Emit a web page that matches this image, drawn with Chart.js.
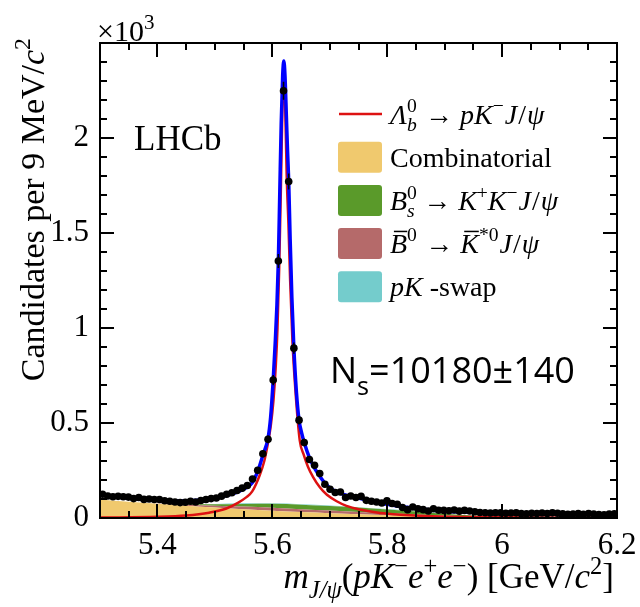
<!DOCTYPE html>
<html>
<head>
<meta charset="utf-8">
<script src="https://cdn.jsdelivr.net/npm/chart.js@4.4.1/dist/chart.umd.min.js"></script>
<style>
  html, body { margin: 0; padding: 0; background: #fff; }
  #wrap { width: 640px; height: 607px; }
</style>
</head>
<body>
<div id="wrap"><canvas id="massChart" width="640" height="607"></canvas></div>
<script>
// Histogram: 9 MeV bins starting at 5.3 GeV
const binStart = 5.3;
const binWidth = 0.009;
const counts = [
  125, 116, 112, 114, 112, 110, 102, 108, 98, 100,
  97, 97, 91, 88, 84, 81, 83, 88, 84, 92,
  97, 102, 105, 115, 125, 133, 145, 157, 171, 205,
  251, 338, 414, 726, 1353, 2249, 1771, 894, 515, 397,
  308, 278, 234, 178, 151, 134, 137, 108, 116, 108,
  114, 93, 88, 84, 79, 90, 76, 72, 55, 44,
  58, 49, 44, 37, 49, 41, 40, 38, 42, 36,
  40, 37, 33, 29, 28, 26, 28, 27, 25, 26,
  27, 23, 22, 25, 24, 26, 24, 27, 25, 22,
  19, 21, 23, 19, 24, 21, 18, 17, 21, 22
];

// Total fit (blue)
const totalMass = [
  5.300, 5.330, 5.360, 5.390, 5.420, 5.450, 5.480, 5.500, 5.520, 5.540,
  5.555, 5.565, 5.5745, 5.5835, 5.5925, 5.5970, 5.6015, 5.6050, 5.6080, 5.6105,
  5.6130, 5.6155, 5.6180, 5.6200, 5.6220, 5.6245, 5.6265, 5.6285, 5.6310, 5.6340,
  5.6375, 5.6420, 5.6465, 5.6510, 5.6555, 5.6645, 5.6735, 5.6825, 5.6915, 5.7005,
  5.710, 5.725, 5.740, 5.760, 5.780, 5.800, 5.820, 5.840, 5.860, 5.880,
  5.900, 5.930, 5.960, 6.000, 6.050, 6.100, 6.150, 6.200
];
const totalFit = [
  122, 111, 102, 95, 90, 90, 96, 105, 118, 138,
  160, 185, 245, 330, 420, 530, 726, 920, 1120, 1353,
  1720, 2080, 2330, 2405, 2330, 2110, 1930, 1771, 1470, 1160,
  894, 660, 515, 448, 397, 318, 262, 220, 184, 158,
  140, 123, 111, 97, 84, 72, 62, 54, 47, 41,
  36, 31, 28, 26, 24, 22, 21, 20
];

// Signal Lambda_b -> p K J/psi (red)
const sigMass = [
  5.300, 5.400, 5.450, 5.490, 5.520, 5.540, 5.555, 5.565, 5.578, 5.586,
  5.5927, 5.5975, 5.602, 5.606, 5.609, 5.612, 5.615, 5.6175, 5.620, 5.6225,
  5.625, 5.628, 5.631, 5.635, 5.640, 5.6477, 5.655, 5.662, 5.671, 5.683,
  5.695, 5.712, 5.729, 5.752, 5.782, 5.810, 5.840, 5.890, 5.950, 6.050, 6.200
];
const sigFit = [
  2, 6, 13, 28, 50, 80, 110, 140, 225, 300,
  400, 490, 620, 800, 1000, 1320, 1750, 2150, 2340, 2150,
  1800, 1550, 1250, 930, 680, 409, 330, 270, 215, 160,
  122, 88, 64, 45, 29, 20, 14, 8, 5, 2, 1
];

// Background components
const bkgMass = [5.30, 5.35, 5.40, 5.45, 5.50, 5.55, 5.60, 5.65, 5.70, 5.75, 5.80, 5.85, 5.90, 5.95, 6.00, 6.05, 6.10, 6.15, 6.20];
const combinatorial = [98, 86, 75, 65, 55, 46, 38, 31, 25, 20, 15, 12, 9, 7, 6, 5, 4, 3, 3];
const bdKstar = [0, 0, 1, 5, 10, 14, 16, 15, 14, 12, 10, 7, 4, 2, 1, 0, 0, 0, 0];
const bsKK = [0, 0, 0, 2, 7, 14, 21, 24, 24, 23, 20, 15, 9, 4, 1, 0, 0, 0, 0];
const pkSwap = [0, 0, 0, 1, 2, 3, 3, 3, 3, 2, 2, 1, 1, 0, 0, 0, 0, 0, 0];

const xTickLabels = [5.4, 5.6, 5.8, 6.0, 6.2];
const yTickLabels = [0, 500, 1000, 1500, 2000];

const SERIF = "'Liberation Serif', 'DejaVu Serif', serif";
const SANS = "'Open Sans', 'DejaVu Sans', sans-serif";

const colors = {
  comb: '#f0c96e',
  bd: '#b56a6a',
  bs: '#5a9a2a',
  swap: '#74cccc',
  sig: '#dd1111',
  total: '#0000ff'
};

// stacked levels for the filled backgrounds
const level1 = combinatorial.slice();
const level2 = level1.map((v, i) => v + bdKstar[i]);
const level3 = level2.map((v, i) => v + bsKK[i]);
const level4 = level3.map((v, i) => v + pkSwap[i]);

const xy = (xs, ys) => xs.map((x, i) => ({ x: x, y: ys[i] }));
const points = counts.map((c, i) => ({ x: binStart + (i + 0.5) * binWidth, y: c }));

// Draw a run of text pieces (italic / super / subscript / overline)
function drawRich(ctx, x, y, segs, size, family, measureOnly) {
  let cx = x;
  for (const s of segs) {
    const sc = s.sc || 1;
    ctx.font = (s.it ? 'italic ' : '') + (size * sc).toFixed(1) + 'px ' + family;
    const w = ctx.measureText(s.t).width;
    const px = cx + (s.dx || 0) * size;
    const py = y + (s.dy || 0) * size;
    if (!measureOnly) {
      ctx.fillText(s.t, px, py);
      if (s.bar) ctx.fillRect(px + 0.14 * size, py - 0.8 * size, w * 0.78, Math.max(1.5, size * 0.05));
    }
    if (!s.keep) cx = px + w;
  }
  return cx - x;
}

const sup = (t) => ({ t: t, sc: 0.7, dy: -0.4 });
const arrow = { t: ' → ', dx: 0.05 };
const jpsi = [{ t: 'J', it: true, dx: 0.03 }, { t: '/', dx: 0.04 }, { t: 'ψ', it: true, dx: 0.04 }];

const legendRows = [
  { kind: 'line', color: colors.sig, segs: [{ t: 'Λ', it: true }, { t: '0', sc: 0.7, dy: -0.4, keep: true }, { t: 'b', it: true, sc: 0.7, dy: 0.25 }, arrow, { t: 'pK', it: true }, sup('−'), ...jpsi] },
  { kind: 'box', color: colors.comb, segs: [{ t: 'Combinatorial' }] },
  { kind: 'box', color: colors.bs, segs: [{ t: 'B', it: true }, { t: '0', sc: 0.7, dy: -0.4, keep: true }, { t: 's', it: true, sc: 0.7, dy: 0.25 }, arrow, { t: 'K', it: true }, sup('+'), { t: 'K', it: true }, sup('−'), ...jpsi] },
  { kind: 'box', color: colors.bd, segs: [{ t: 'B', it: true, bar: true }, { t: '0', sc: 0.7, dy: -0.45 }, arrow, { t: 'K', it: true, bar: true }, { t: '*0', sc: 0.7, dy: -0.45 }, ...jpsi] },
  { kind: 'box', color: colors.swap, segs: [{ t: 'pK', it: true }, { t: ' -swap' }] }
];

// Frame with inward major/minor ticks on all four sides
const frameTicks = {
  id: 'frameTicks',
  afterDatasetsDraw(chart) {
    const { ctx, chartArea: a, scales: { x, y } } = chart;
    ctx.save();
    ctx.strokeStyle = '#000';
    ctx.lineWidth = 2;
    ctx.beginPath();
    for (let k = 0; k <= 18; k++) {
      const v = 5.3 + k * 0.05;
      const px = Math.round(x.getPixelForValue(v));
      const major = xTickLabels.some(t => Math.abs(t - v) < 1e-6);
      const len = major ? 14 : 7;
      ctx.moveTo(px, a.bottom); ctx.lineTo(px, a.bottom - len);
      ctx.moveTo(px, a.top); ctx.lineTo(px, a.top + len);
    }
    for (let k = 0; k <= 25; k++) {
      const v = k * 100;
      const py = Math.round(y.getPixelForValue(v));
      const len = (v % 500 === 0) ? 14 : 7;
      ctx.moveTo(a.left, py); ctx.lineTo(a.left + len, py);
      ctx.moveTo(a.right, py); ctx.lineTo(a.right - len, py);
    }
    ctx.stroke();
    ctx.strokeRect(a.left, a.top, a.right - a.left, a.bottom - a.top);
    ctx.restore();
  }
};

// Poisson error bars under the data markers
const errorBars = {
  id: 'errorBars',
  beforeDatasetDraw(chart, args) {
    if (args.index !== 0) return;
    const { ctx, scales: { x, y } } = chart;
    ctx.save();
    ctx.strokeStyle = '#000';
    ctx.lineWidth = 1.6;
    ctx.beginPath();
    counts.forEach((c, i) => {
      const px = x.getPixelForValue(binStart + (i + 0.5) * binWidth);
      const e = Math.sqrt(c);
      ctx.moveTo(px, y.getPixelForValue(c - e));
      ctx.lineTo(px, y.getPixelForValue(c + e));
    });
    ctx.stroke();
    ctx.restore();
  }
};

// Axis titles, legend and labels
const annotations = {
  id: 'annotations',
  afterDraw(chart) {
    const ctx = chart.ctx;
    ctx.save();
    ctx.fillStyle = '#000';
    ctx.textBaseline = 'alphabetic';

    // x title, right aligned to the frame
    const xTitle = [{ t: 'm', it: true }, { t: 'J/ψ', it: true, sc: 0.7, dy: 0.28 }, { t: '(' }, { t: 'pK', it: true }, sup('−'), { t: 'e', it: true }, sup('+'), { t: 'e', it: true }, sup('−'), { t: ') [GeV/' }, { t: 'c', it: true }, sup('2'), { t: ']' }];
    const xw = drawRich(ctx, 0, 0, xTitle, 35, SERIF, true);
    drawRich(ctx, 614 - xw, 588, xTitle, 35, SERIF);

    // y title, rotated, ending at the top of the frame
    const yTitle = [{ t: 'Candidates per 9 MeV/' }, { t: 'c', it: true }, sup('2')];
    const yw = drawRich(ctx, 0, 0, yTitle, 34, SERIF, true);
    ctx.save();
    ctx.translate(44, 38 + yw);
    ctx.rotate(-Math.PI / 2);
    drawRich(ctx, 0, 0, yTitle, 34, SERIF);
    ctx.restore();

    // exponent above the y axis
    drawRich(ctx, 97, 41, [{ t: '×10' }, sup('3')], 30, SERIF);

    drawRich(ctx, 134, 150, [{ t: 'LHCb' }], 35, SERIF);

    drawRich(ctx, 330, 383, [{ t: 'N' }, { t: 's', sc: 0.7, dy: 0.32 }, { t: '=10180±140' }], 36, SANS);

    // legend
    legendRows.forEach((row, i) => {
      const cy = 114 + i * 43.2;
      if (row.kind === 'line') {
        ctx.strokeStyle = row.color;
        ctx.lineWidth = 2.5;
        ctx.beginPath();
        ctx.moveTo(339, cy); ctx.lineTo(382, cy);
        ctx.stroke();
      } else {
        ctx.fillStyle = row.color;
        ctx.beginPath();
        ctx.roundRect(338, cy - 15.5, 44, 31, 3);
        ctx.fill();
      }
      ctx.fillStyle = '#000';
      drawRich(ctx, 390, cy + 9.5, row.segs, 28, SERIF);
    });
    ctx.restore();
  }
};

const ctx = document.getElementById('massChart').getContext('2d');
const massChart = new Chart(ctx, {
  type: 'line',
  data: {
    datasets: [
      {
        label: 'Data',
        data: points,
        showLine: false,
        pointRadius: 3.8,
        pointBackgroundColor: '#000',
        pointBorderWidth: 0
      },
      {
        label: 'Total fit',
        data: xy(totalMass, totalFit),
        borderColor: colors.total,
        borderWidth: 3.5,
        pointRadius: 0,
        cubicInterpolationMode: 'monotone',
        fill: false
      },
      {
        label: 'Signal',
        data: xy(sigMass, sigFit),
        borderColor: colors.sig,
        borderWidth: 2.5,
        pointRadius: 0,
        cubicInterpolationMode: 'monotone',
        fill: false
      },
      {
        label: 'Combinatorial',
        data: xy(bkgMass, level1),
        borderWidth: 0,
        pointRadius: 0,
        backgroundColor: colors.comb,
        cubicInterpolationMode: 'monotone',
        fill: 'origin'
      },
      {
        label: 'Bd',
        data: xy(bkgMass, level2),
        borderWidth: 0,
        pointRadius: 0,
        backgroundColor: colors.bd,
        cubicInterpolationMode: 'monotone',
        fill: '-1'
      },
      {
        label: 'Bs',
        data: xy(bkgMass, level3),
        borderWidth: 0,
        pointRadius: 0,
        backgroundColor: colors.bs,
        cubicInterpolationMode: 'monotone',
        fill: '-1'
      },
      {
        label: 'pK swap',
        data: xy(bkgMass, level4),
        borderWidth: 0,
        pointRadius: 0,
        backgroundColor: colors.swap,
        cubicInterpolationMode: 'monotone',
        fill: '-1'
      }
    ]
  },
  options: {
    responsive: false,
    animation: false,
    devicePixelRatio: 1,
    layout: { padding: { top: 43, right: 23, left: 0, bottom: 0 } },
    plugins: {
      legend: { display: false },
      tooltip: { enabled: false }
    },
    scales: {
      x: {
        type: 'linear',
        min: 5.3,
        max: 6.2,
        grid: { display: false, drawTicks: false },
        border: { display: false },
        afterBuildTicks: (s) => { s.ticks = xTickLabels.map(v => ({ value: v })); },
        afterFit: (s) => { s.height = 89; s.paddingLeft = 0; s.paddingRight = 0; },
        ticks: {
          padding: 9,
          color: '#000',
          maxRotation: 0,
          font: { family: SERIF, size: 31 },
          callback: (v) => String(Number(v.toFixed(1)))
        }
      },
      y: {
        min: 0,
        max: 2500,
        grid: { display: false, drawTicks: false },
        border: { display: false },
        afterBuildTicks: (s) => { s.ticks = yTickLabels.map(v => ({ value: v })); },
        afterFit: (s) => { s.width = 100; s.paddingTop = 0; s.paddingBottom = 0; },
        ticks: {
          padding: 11,
          color: '#000',
          font: { family: SERIF, size: 31 },
          callback: (v) => String(v / 1000)
        }
      }
    }
  },
  plugins: [frameTicks, errorBars, annotations]
});
</script>
</body>
</html>
